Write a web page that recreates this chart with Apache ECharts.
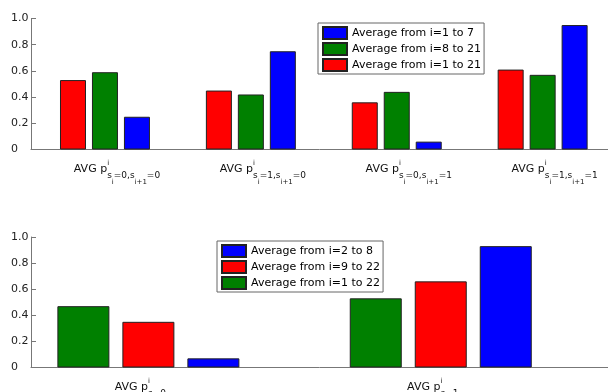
<!DOCTYPE html>
<html>
<head>
<meta charset="utf-8">
<script src="https://cdn.jsdelivr.net/npm/echarts@6/dist/echarts.min.js"></script>
<style>html,body{margin:0;padding:0;background:#fff;}#c{width:608px;height:392px;}</style>
</head>
<body>
<div id="c"></div>
<script>
// ---- data ----
const topSubs = [['0', '0'], ['1', '0'], ['0', '1'], ['1', '1']]; // s_i, s_{i+1}
const topNames = ['Average from i=1 to 21', 'Average from i=8 to 21', 'Average from i=1 to 7'];
const topLegendOrder = ['Average from i=1 to 7', 'Average from i=8 to 21', 'Average from i=1 to 21'];
const topRed = [0.53, 0.45, 0.36, 0.61];
const topGreen = [0.59, 0.42, 0.44, 0.57];
const topBlue = [0.25, 0.75, 0.06, 0.95];

const bottomSubs = ['0', '1']; // s
const bottomNames = ['Average from i=1 to 22', 'Average from i=9 to 22', 'Average from i=2 to 8'];
const bottomLegendOrder = ['Average from i=2 to 8', 'Average from i=9 to 22', 'Average from i=1 to 22'];
const bottomGreen = [0.47, 0.53];
const bottomRed = [0.35, 0.66];
const bottomBlue = [0.07, 0.93];

// ---- styling ----
const FONT = 'DejaVu Sans';
const RED = '#ff0000', GREEN = '#008000', BLUE = '#0000ff';
const EDGE = '#222';
const AXIS = '#777';

const rich = {
  m:   {fontFamily: FONT, fontSize: 11, lineHeight: 12, padding: [4, 0, 0, 0], verticalAlign: 'top', align: 'left', color: '#111'},
  sup: {fontFamily: FONT, fontSize: 7, lineHeight: 8, padding: [0, 0, 0, 0], width: 0, verticalAlign: 'top', align: 'left', color: '#111'},
  s:   {fontFamily: FONT, fontSize: 9, lineHeight: 10, padding: [12, 0, 0, 0], verticalAlign: 'top', align: 'left', color: '#111'},
  ss:  {fontFamily: FONT, fontSize: 7, lineHeight: 8, padding: [19.5, 0, 0, 0], verticalAlign: 'top', align: 'left', color: '#111'}
};

function topLabel(v) {
  const k = Math.round(v) - 1;
  const p = topSubs[k];
  if (!p) return '';
  return '{m|AVG p}{sup|i}{s|s}{ss|i}{s|=' + p[0] + ',s}{ss|i+1}{s|=' + p[1] + '}';
}
function bottomLabel(v) {
  const k = Math.round(v) - 1;
  const p = bottomSubs[k];
  if (p == null) return '';
  return '{m|AVG p}{sup|i}{s|s=' + p + '}';
}

function pairs(arr) { return arr.map((v, i) => [i + 1, v]); }

function yAxis(gridIndex) {
  return {
    type: 'value', gridIndex: gridIndex, min: 0, max: 1, interval: 0.2,
    axisLine: {show: true, lineStyle: {color: AXIS, width: 1}},
    axisTick: {show: true, inside: true, length: 5, lineStyle: {color: AXIS}},
    splitLine: {show: false},
    axisLabel: {
      fontFamily: FONT, fontSize: 11, color: '#222', align: 'left', margin: 20,
      formatter: v => (v === 0 ? '0' : v.toFixed(1))
    }
  };
}

function bar(name, data, color, xi, yi, w, gap) {
  return {
    type: 'bar', name: name, xAxisIndex: xi, yAxisIndex: yi, data: pairs(data),
    barWidth: w, barGap: gap,
    itemStyle: {color: color, borderColor: EDGE, borderWidth: 1},
    emphasis: {disabled: true}, animation: false
  };
}

const legendCommon = {
  orient: 'vertical', itemWidth: 24, itemHeight: 12, itemGap: 2,
  padding: [3, 3, 2, 4], borderColor: '#666', borderWidth: 1, backgroundColor: '#fff',
  icon: 'rect', selectedMode: false,
  textStyle: {fontFamily: FONT, fontSize: 11, color: '#000', lineHeight: 12}
};

const option = {
  animation: false,
  grid: [
    {left: 31, right: 0, top: 18.5, height: 131, outerBoundsMode: 'none'},
    {left: 31, right: 0, top: 237, height: 130.5, outerBoundsMode: 'none'}
  ],
  xAxis: [
    {
      type: 'value', gridIndex: 0, min: 0.493, max: 4.448,
      axisLine: {show: true, onZero: false, lineStyle: {color: AXIS, width: 1}},
      axisTick: {show: false}, splitLine: {show: false},
      axisLabel: {customValues: [1, 2, 3, 4], formatter: topLabel, rich: rich, margin: 10, padding: [0, 0, 0, 24], showMinLabel: true, showMaxLabel: true}
    },
    {
      type: 'value', gridIndex: 1, min: 0.5985, max: 2.572,
      axisLine: {show: true, onZero: false, lineStyle: {color: AXIS, width: 1}},
      axisTick: {show: false}, splitLine: {show: false},
      axisLabel: {customValues: [1, 2], formatter: bottomLabel, rich: rich, margin: 10, padding: [0, 16, 0, 0], showMinLabel: true, showMaxLabel: true}
    }
  ],
  yAxis: [yAxis(0), yAxis(1)],
  legend: [
    Object.assign({}, legendCommon, {left: 318, top: 23, data: topLegendOrder}),
    Object.assign({}, legendCommon, {left: 217, top: 241, data: bottomLegendOrder})
  ],
  series: [
    bar(topNames[0], topRed, RED, 0, 0, 26, '23%'),
    bar(topNames[1], topGreen, GREEN, 0, 0, 26, '23%'),
    bar(topNames[2], topBlue, BLUE, 0, 0, 26, '23%'),
    bar(bottomNames[0], bottomGreen, GREEN, 1, 1, 52, '25%'),
    bar(bottomNames[1], bottomRed, RED, 1, 1, 52, '25%'),
    bar(bottomNames[2], bottomBlue, BLUE, 1, 1, 52, '25%')
  ]
};

const chart = echarts.init(document.getElementById('c'), null, {renderer: 'canvas'});
chart.setOption(option);
</script>
</body>
</html>
